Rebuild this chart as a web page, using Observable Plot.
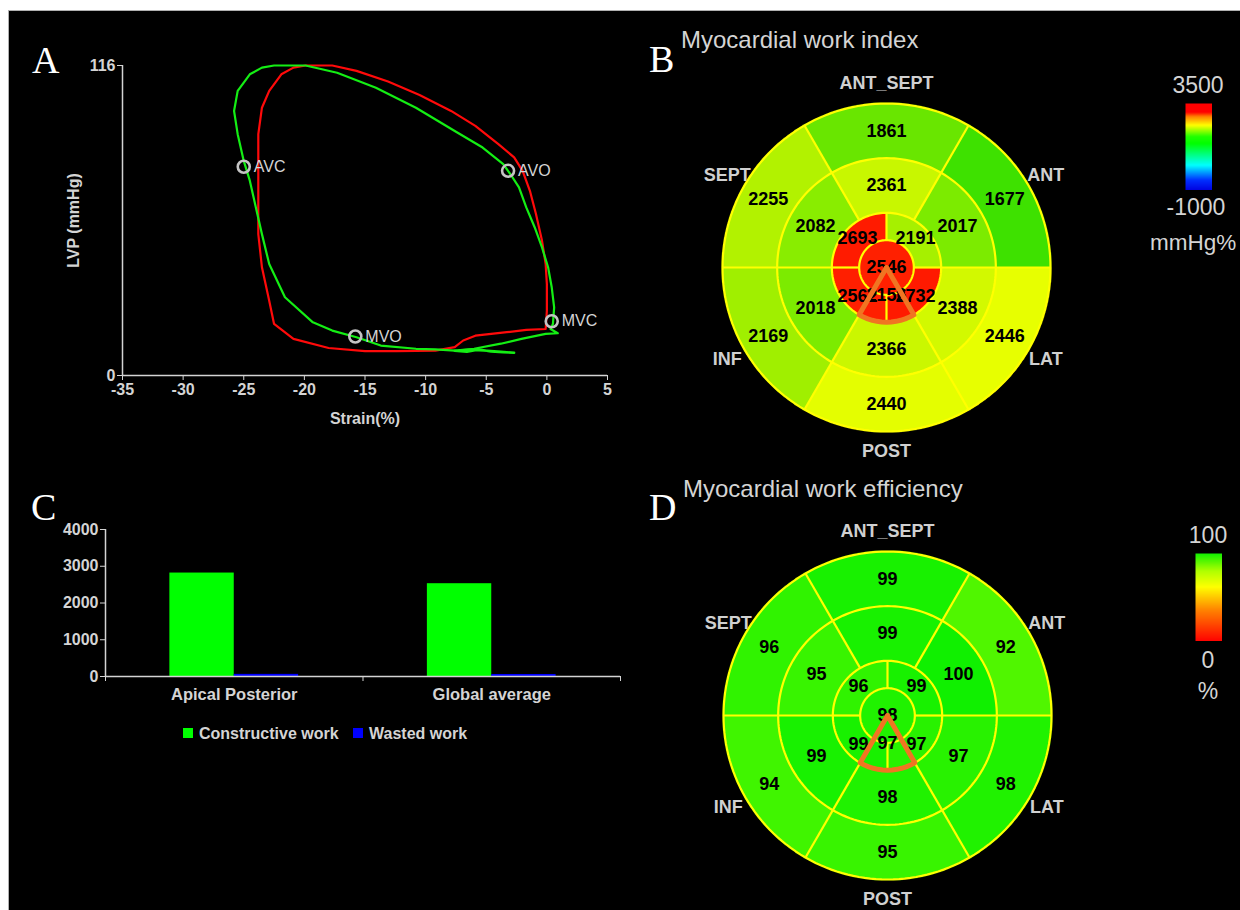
<!DOCTYPE html>
<html><head><meta charset="utf-8">
<script src="https://cdn.jsdelivr.net/npm/d3@7"></script>
<script src="https://cdn.jsdelivr.net/npm/@observablehq/plot@0.6"></script>
<style>
html,body{margin:0;padding:0;background:#fff;width:1240px;height:910px;overflow:hidden}
#stage{position:absolute;left:8px;top:10px;width:1232px;height:900px;background:#000;box-shadow:inset 1px 1px 0 #b0b0b0}
.abs{position:absolute}
#ann{position:absolute;left:0;top:0;pointer-events:none}
</style></head>
<body>
<div id="stage"></div>
<div id="pA" class="abs" style="left:0;top:0"></div>
<div id="pB" class="abs"></div>
<div id="pBbar" class="abs"></div>
<div id="pC" class="abs" style="left:0;top:470px"></div>
<div id="pD" class="abs"></div>
<div id="pDbar" class="abs"></div>
<svg id="ann" width="1240" height="910"></svg>
<script>
// ---------------- DATA ----------------
// Panel A: pressure-strain loops
const redStrain = [-19.9,-17.7,-15.7,-13.1,-10.5,-7.9,-5.9,-4.0,-2.7,-2.0,-1.4,-0.9,-0.4,-0.1,0.0,0.0,-0.1,-1.7,-3.3,-5.9,-6.9,-7.6,-9.2,-12.4,-15.0,-18.0,-20.9,-22.5,-22.9,-23.5,-23.8,-23.8,-23.8,-23.8,-23.5,-22.9,-21.9,-20.9,-19.9];
const redPressure = [116,116,114,110,105,99,93.4,86.6,81.6,76.6,69.1,60.4,50.4,41.7,34.2,24.3,17.4,17.1,16.2,14.9,13.1,10.6,9.3,9.1,9.1,10.3,13.7,19.3,28.0,40.5,52.9,65.4,77.8,90.3,100.2,106.5,112.7,115.2,116];
const greenStrain = [-25.8,-25.5,-24.5,-23.5,-22.5,-19.9,-17.3,-14.1,-10.8,-7.6,-5.3,-3.6,-3.0,-2.3,-1.7,-1.0,-0.4,0.1,0.4,0.6,0.5,0.3,0.9,-0.1,-2.1,-3.8,-6.0,-7.6,-9.2,-10.8,-13.7,-15.7,-17.7,-19.3,-21.6,-22.9,-23.5,-24.0,-24.5,-25.0,-25.5,-25.8];
const greenPressure = [99.0,106.5,112.7,115.2,116,116,113.3,107.7,100.2,91.5,85.3,79.1,75.3,70.4,62.9,55.4,47.9,40.5,33.0,25.5,19.3,17.4,15.8,15.6,13.7,11.9,10.0,9.3,9.8,10.0,11.2,14.3,16.8,19.9,29.3,41.7,52.9,62.9,72.9,80.3,90.3,99.0];
const tailStrain = [-7.6,-6.6,-5.6,-4.6,-3.6,-2.7,-3.8,-5.2,-6.4,-7.2];
const tailPressure = [9.3,8.9,9.7,9.0,8.7,8.5,8.9,9.4,9.6,9.4];
const markerNames = ["AVC","AVO","MVC","MVO"];
const markerStrain = [-25.0,-3.2,0.4,-15.8];
const markerPressure = [78.1,76.6,20.3,14.6];

// Panel B / D: bull's-eye segments (order: ANT, ANT_SEPT, SEPT, INF, POST, LAT)
const walls = ["ANT","ANT_SEPT","SEPT","INF","POST","LAT"];
const workBasal = [1677,1861,2255,2169,2440,2446];
const workMid = [2017,2361,2082,2018,2366,2388];
const workApical = [2191,2693,2562,2732]; // upper-right, upper-left, lower-left, lower-right
const workApex = 2546;
const workApexLow = 2156;
const effBasal = [92,99,96,94,95,98];
const effMid = [100,99,95,99,98,97];
const effApical = [99,96,99,97];
const effApex = 98;
const effApexLow = 97;

// Panel C: constructive vs wasted work
const categories = ["Apical Posterior","Global average"];
const constructive = [2815,2525];
const wasted = [58,55];

// colour scales
const workStops = [-1000,0,800,1500,1650,1850,2050,2200,2350,2450,2500,2540,3500];
const workColors = ["#0000ff","#0080ff","#00ffc0","#10d800","#38e000","#68e600","#80ec00","#a8f000","#c4f600","#e8ff00","#ffa000","#ff2000","#ff0000"];
const workBarStops = [-1000,-460,305,1430,1790,2375,2825,3050,3500];
const workBarColors = ["#0000e0","#0030ff","#00ffff","#00ff00","#20ff00","#ffff00","#ff8000","#ff0000","#ff0000"];
const effStops = [0,35,62,80,100];
const effColors = ["#ff0000","#ff8000","#ffff00","#b0ff00","#10f000"];

// ---------------- LAYOUT ----------------
const FONT = '"Liberation Sans", Arial, Helvetica, sans-serif';
const AX = "#d4d4d4";
const rad = Math.PI / 180;
const SEG_ANG = [30,90,150,210,270,330];
const APX_ANG = [45,135,225,315];
const RINGS = [1/6,1/3,2/3,1];

// ---------------- PANEL A ----------------
const red = redStrain.map((s,i)=>({s, p: redPressure[i]}));
const green = greenStrain.map((s,i)=>({s, p: greenPressure[i]}));
const tail = tailStrain.map((s,i)=>({s, p: tailPressure[i]}));
const markers = markerNames.map((n,i)=>({n, s: markerStrain[i], p: markerPressure[i]}));

const plotA = Plot.plot({
  width: 620, height: 450,
  marginLeft: 122, marginRight: 13, marginTop: 65, marginBottom: 75,
  style: {background: "none", color: AX, fontFamily: FONT, fontSize: "16px", fontWeight: "bold"},
  x: {domain: [-35,5], ticks: d3.range(-35,6,5), tickSize: 5, tickPadding: 3, tickFormat: d => String(d), label: null},
  y: {domain: [0,116], ticks: [0,116], tickSize: 5, tickPadding: 2, tickFormat: d => String(d), label: null},
  marks: [
    Plot.ruleX([-35], {stroke: AX, strokeWidth: 1.5}),
    Plot.ruleY([0], {stroke: AX, strokeWidth: 1.5}),
    Plot.line(red, {x: "s", y: "p", stroke: "#ff0a0a", strokeWidth: 2.2}),
    Plot.line(green, {x: "s", y: "p", stroke: "#14ee14", strokeWidth: 2.2}),
    Plot.line(tail, {x: "s", y: "p", stroke: "#14ee14", strokeWidth: 2.5}),
    Plot.dot(markers, {x: "s", y: "p", r: 6, stroke: "#c4c4c4", strokeWidth: 2.6, fill: "none"}),
    Plot.text(markers, {x: "s", y: "p", text: "n", dx: 10, textAnchor: "start", fill: AX, fontWeight: "normal", fontSize: 16}),
    Plot.text(["Strain(%)"], {frameAnchor: "bottom", dy: 43, lineAnchor: "middle", textAnchor: "middle", fill: AX}),
    Plot.text(["LVP (mmHg)"], {frameAnchor: "left", dx: -49, rotate: -90, textAnchor: "middle", lineAnchor: "middle", fill: AX})
  ]
});
document.getElementById("pA").appendChild(plotA);

// ---------------- BULL'S-EYE ----------------
function segValue(x, y, basal, mid, apical, apex) {
  const r = Math.hypot(x, y);
  if (r > 1.005) return null;
  let a = Math.atan2(y, x) / rad; if (a < 0) a += 360;
  if (r <= RINGS[0]) return apex;
  if (r <= RINGS[1]) return apical[Math.floor(a / 90) % 4];
  if (r <= RINGS[2]) return mid[Math.floor(a / 60) % 6];
  return basal[Math.floor(a / 60) % 6];
}
function bullseye(basal, mid, apical, apex, apexLow, stops, colors) {
  const W = 500, H = 440, R = 164;
  const ringPts = RINGS.flatMap(f => d3.range(0, 361, 2).map(a => ({f, x: f*Math.cos(a*rad), y: f*Math.sin(a*rad)})));
  const radials = [0,60,120,180,240,300].map(a => ({a, r1: RINGS[1], r2: 1}))
    .concat([0,90,180,270].map(a => ({a, r1: RINGS[0], r2: RINGS[1]})));
  const wedge = [{x:0,y:0}].concat(d3.range(240, 301, 5).map(a => ({x: RINGS[1]*Math.cos(a*rad), y: RINGS[1]*Math.sin(a*rad)}))).concat([{x:0,y:0}]);
  const numStyle = {fill: "#000", fontSize: 18, fontWeight: "bold", fontFamily: FONT};
  return Plot.plot({
    width: W, height: H, margin: 0,
    style: {background: "none", fontFamily: FONT},
    x: {domain: [-W/2/R, W/2/R], axis: null},
    y: {domain: [-H/2/R, H/2/R], axis: null},
    color: {type: "linear", domain: stops, range: colors},
    marks: [
      Plot.raster({x1: -1.01, x2: 1.01, y1: -1.01, y2: 1.01, width: 332, height: 332,
        fill: (x, y) => segValue(x, y, basal, mid, apical, apex)}),
      Plot.line(ringPts, {x: "x", y: "y", z: "f", stroke: "#ffff00", strokeWidth: 2.2}),
      Plot.link(radials, {x1: d => d.r1*Math.cos(d.a*rad), y1: d => d.r1*Math.sin(d.a*rad),
        x2: d => d.r2*Math.cos(d.a*rad), y2: d => d.r2*Math.sin(d.a*rad), stroke: "#ffff00", strokeWidth: 2.2}),
      Plot.text(basal, {x: (d,i) => 0.833*Math.cos(SEG_ANG[i]*rad), y: (d,i) => 0.833*Math.sin(SEG_ANG[i]*rad), text: d => String(d), ...numStyle}),
      Plot.text(mid, {x: (d,i) => 0.5*Math.cos(SEG_ANG[i]*rad), y: (d,i) => 0.5*Math.sin(SEG_ANG[i]*rad), text: d => String(d), ...numStyle}),
      Plot.text(apical, {x: (d,i) => 0.25*Math.cos(APX_ANG[i]*rad), y: (d,i) => 0.25*Math.sin(APX_ANG[i]*rad), text: d => String(d), ...numStyle}),
      Plot.text([apex], {x: 0, y: 0, text: d => String(d), ...numStyle}),
      Plot.text([apexLow], {x: 0, y: -0.17, text: d => String(d), ...numStyle}),
      Plot.line(wedge, {x: "x", y: "y", stroke: "#f07522", strokeWidth: 5, strokeLinejoin: "round"}),
      Plot.text(walls, {x: (d,i) => 1.122*Math.cos(SEG_ANG[i]*rad), y: (d,i) => 1.122*Math.sin(SEG_ANG[i]*rad), text: d => d,
        fill: "#d0d0d0", fontSize: 18, fontWeight: "bold"})
    ]
  });
}
function colorbar(stops, colors, w, h) {
  return Plot.plot({
    width: w, height: h, margin: 0,
    style: {background: "none"},
    x: {domain: [0,1], axis: null},
    y: {domain: [stops[0], stops[stops.length-1]], axis: null},
    color: {type: "linear", domain: stops, range: colors},
    marks: [Plot.raster({x1: 0, x2: 1, y1: stops[0], y2: stops[stops.length-1], width: w, height: h, fill: (x, y) => y})]
  });
}
function place(id, el, left, top) {
  const d = document.getElementById(id);
  d.style.left = left + "px"; d.style.top = top + "px";
  d.appendChild(el);
}
place("pB", bullseye(workBasal, workMid, workApical, workApex, workApexLow, workStops, workColors), 886-250, 267-220);
place("pD", bullseye(effBasal, effMid, effApical, effApex, effApexLow, effStops, effColors), 887-250, 715-220);
place("pBbar", colorbar(workBarStops, workBarColors, 27, 87), 1185, 103);
place("pDbar", colorbar(effStops, effColors, 27, 88), 1195, 553);

// ---------------- PANEL C ----------------
const plotC = Plot.plot({
  width: 622, height: 250,
  marginLeft: 105, marginRight: 2, marginTop: 59, marginBottom: 44,
  style: {background: "none", color: AX, fontFamily: FONT, fontSize: "16px", fontWeight: "bold"},
  x: {domain: [0,2], ticks: [0,1,2], tickSize: 5, tickFormat: () => "", label: null},
  y: {domain: [0,4000], ticks: [0,1000,2000,3000,4000], tickSize: 5, tickPadding: 2, tickFormat: d => String(d), label: null},
  marks: [
    Plot.rect(categories, {x1: (d,i) => i + 0.25, x2: (d,i) => i + 0.5, y1: 0, y2: (d,i) => constructive[i], fill: "#00ff00"}),
    Plot.rect(categories, {x1: (d,i) => i + 0.5, x2: (d,i) => i + 0.75, y1: 0, y2: (d,i) => wasted[i], fill: "#0000ff"}),
    Plot.ruleX([0], {stroke: AX, strokeWidth: 1.5}),
    Plot.ruleY([0], {stroke: AX, strokeWidth: 1.5}),
    Plot.text(categories, {x: (d,i) => i + 0.5, y: 0, dy: 18, text: d => d, fontSize: 16.5, fill: AX})
  ]
});
document.getElementById("pC").appendChild(plotC);

// ---------------- ANNOTATIONS ----------------
const ann = d3.select("#ann");
function txt(s, x, y, o = {}) {
  ann.append("text").attr("x", x).attr("y", y).text(s)
    .attr("fill", o.fill || "#d4d4d4").attr("font-family", o.family || FONT)
    .attr("font-size", o.size || 23).attr("font-weight", o.weight || "normal")
    .attr("text-anchor", o.anchor || "start").attr("dominant-baseline", o.base || "auto");
}
const SERIF = '"Liberation Serif", "Times New Roman", serif';
txt("A", 32, 73, {fill: "#fff", family: SERIF, size: 38});
txt("B", 649, 72, {fill: "#fff", family: SERIF, size: 38});
txt("C", 31, 520, {fill: "#fff", family: SERIF, size: 38});
txt("D", 649, 520, {fill: "#fff", family: SERIF, size: 38});
txt("Myocardial work index", 681, 48, {size: 24});
txt("Myocardial work efficiency", 683, 497, {size: 24});
txt("3500", 1198, 85, {anchor: "middle", base: "central"});
txt("-1000", 1196, 207, {anchor: "middle", base: "central"});
txt("mmHg%", 1150, 242, {base: "central", size: 22.5});
txt("100", 1208, 535, {anchor: "middle", base: "central"});
txt("0", 1208, 660, {anchor: "middle", base: "central"});
txt("%", 1208, 691, {anchor: "middle", base: "central"});
// legend for panel C
const legendItems = [["Constructive work", "#00ff00", 183], ["Wasted work", "#0000ff", 353]];
legendItems.forEach(([name, col, x]) => {
  ann.append("rect").attr("x", x).attr("y", 728).attr("width", 10).attr("height", 10).attr("fill", col);
  txt(name, x + 16, 733, {size: 16, weight: "bold", base: "central"});
});
</script>
</body></html>
